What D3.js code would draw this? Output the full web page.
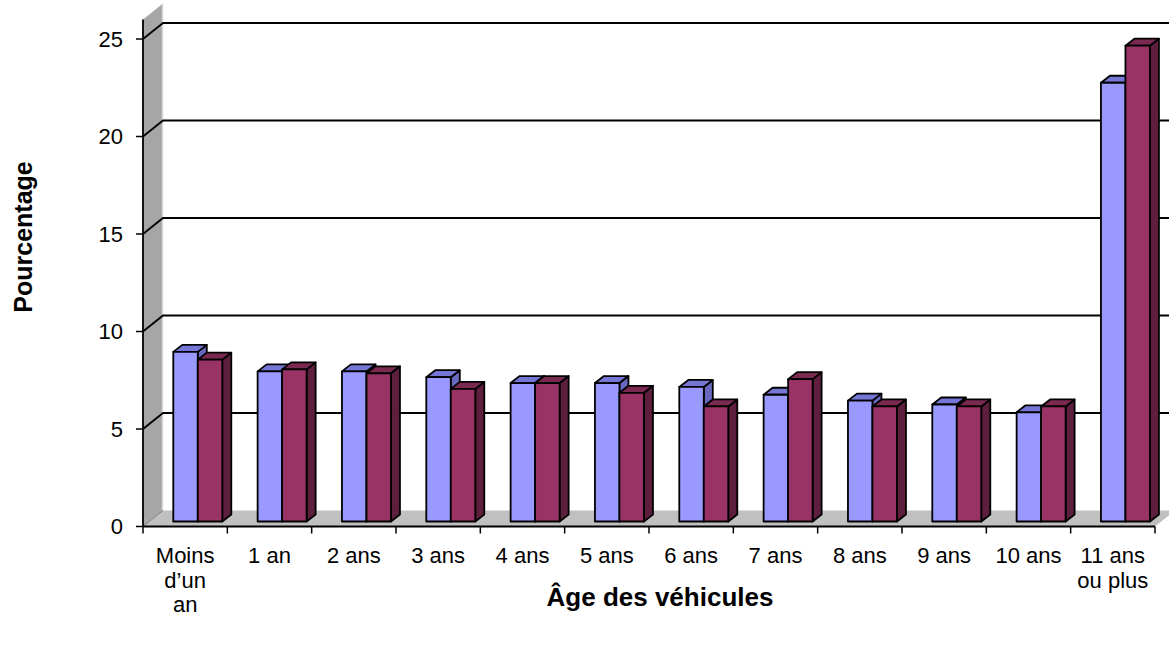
<!DOCTYPE html>
<html>
<head>
<meta charset="utf-8">
<script src="https://cdn.jsdelivr.net/npm/d3@7"></script>
<style>
  html, body { margin: 0; padding: 0; background: #fff; }
  svg { display: block; }
  text { font-family: "Liberation Sans", Arial, sans-serif; fill: #000; }
</style>
</head>
<body>
<svg id="chart" width="1169" height="645"></svg>
<script>
// ---- data ----
const categories = ["Moins d’un an", "1 an", "2 ans", "3 ans", "4 ans", "5 ans", "6 ans", "7 ans", "8 ans", "9 ans", "10 ans", "11 ans ou plus"];
const categoryLines = [["Moins", "d’un", "an"], ["1 an"], ["2 ans"], ["3 ans"], ["4 ans"], ["5 ans"], ["6 ans"], ["7 ans"], ["8 ans"], ["9 ans"], ["10 ans"], ["11 ans", "ou plus"]];
const seriesA = [8.7, 7.7, 7.7, 7.4, 7.1, 7.1, 6.9, 6.5, 6.2, 6.0, 5.6, 22.5];
const seriesB = [8.3, 7.8, 7.6, 6.8, 7.1, 6.6, 5.9, 7.3, 5.9, 5.9, 5.9, 24.4];
const yTicks = [0, 5, 10, 15, 20, 25];
const yTitle = "Pourcentage";
const xTitle = "Âge des véhicules";

(function () {
// ---- layout ----
const svg = d3.select("#chart");
const plotLeft = 143, plotRight = 1155, plotBottom = 526.5, plotTop = 19.5;
const depth = { dx: 20, dy: -16 };
const barFront = { dx: 6, dy: -5 };
const barDepth = { dx: 9, dy: -7 };

const y = d3.scaleLinear().domain([0, 26]).range([plotBottom, plotTop]);
const x = d3.scaleBand().domain(categories).range([plotLeft, plotRight]).padding(0);
const bw = x.bandwidth();
const xs = d3.scaleBand().domain(["A", "B"]).range([bw * 0.288, bw * 0.869]).padding(0);

const colors = {
  A: { front: "#9999ff", top: "#7676d6", side: "#6868c0" },
  B: { front: "#993366", top: "#7a2951", side: "#5e1f3f" }
};

const poly = pts => pts.map(p => p.join(",")).join(" ");

// left wall
const yMax = y(26);
svg.append("polygon")
  .attr("points", poly([[plotLeft, plotBottom], [plotLeft, yMax], [plotLeft + depth.dx, yMax + depth.dy], [plotLeft + depth.dx, plotBottom + depth.dy]]))
  .attr("fill", "#a6a6a6");
svg.append("line")
  .attr("x1", plotLeft + depth.dx - 0.5).attr("x2", plotLeft + depth.dx - 0.5)
  .attr("y1", yMax + depth.dy).attr("y2", plotBottom + depth.dy)
  .attr("stroke", "#d8d8d8").attr("stroke-width", 1.5);

// floor
svg.append("polygon")
  .attr("points", poly([[plotLeft, plotBottom], [plotRight, plotBottom], [plotRight + depth.dx, plotBottom + depth.dy], [plotLeft + depth.dx, plotBottom + depth.dy]]))
  .attr("fill", "#c0c0c0");

// gridlines (side wall diagonal + back wall)
const grid = svg.append("g");
yTicks.filter(t => t > 0).forEach(t => {
  grid.append("polyline")
    .attr("points", poly([[plotLeft, y(t)], [plotLeft + depth.dx, y(t) + depth.dy], [1175, y(t) + depth.dy]]))
    .attr("fill", "none").attr("stroke", "#000").attr("stroke-width", 1.8);
});
svg.append("line")
  .attr("x1", plotLeft).attr("y1", plotBottom)
  .attr("x2", plotLeft + depth.dx).attr("y2", plotBottom + depth.dy)
  .attr("stroke", "#808080").attr("stroke-width", 1);

// bars
const bars = svg.append("g");
categories.forEach((c, i) => {
  [["A", seriesA[i]], ["B", seriesB[i]]].forEach(([k, v]) => {
    const x0 = x(c) + xs(k) + barFront.dx;
    const x1 = x0 + xs.bandwidth();
    const yb = y(0) + barFront.dy;
    const yt = y(v) + barFront.dy;
    const g = bars.append("g").attr("stroke", "#000").attr("stroke-width", 1.8).attr("stroke-linejoin", "round");
    g.append("polygon")
      .attr("points", poly([[x1, yb], [x1, yt], [x1 + barDepth.dx, yt + barDepth.dy], [x1 + barDepth.dx, yb + barDepth.dy]]))
      .attr("fill", colors[k].side);
    g.append("polygon")
      .attr("points", poly([[x0, yt], [x1, yt], [x1 + barDepth.dx, yt + barDepth.dy], [x0 + barDepth.dx, yt + barDepth.dy]]))
      .attr("fill", colors[k].top);
    g.append("rect")
      .attr("x", x0).attr("y", yt).attr("width", x1 - x0).attr("height", yb - yt)
      .attr("fill", colors[k].front);
  });
});

// y axis
const yAxis = svg.append("g");
yAxis.append("line")
  .attr("x1", plotLeft).attr("x2", plotLeft).attr("y1", y(0)).attr("y2", yMax)
  .attr("stroke", "#000").attr("stroke-width", 1.8);
yTicks.forEach(t => {
  yAxis.append("line")
    .attr("x1", plotLeft - 7).attr("x2", plotLeft).attr("y1", y(t)).attr("y2", y(t))
    .attr("stroke", "#000").attr("stroke-width", 1.5);
  yAxis.append("text")
    .attr("x", plotLeft - 20).attr("y", y(t)).attr("dy", "0.36em")
    .attr("text-anchor", "end").attr("font-size", 22)
    .text(t);
});

// x axis
const xAxis = svg.append("g");
xAxis.append("line")
  .attr("x1", plotLeft).attr("x2", plotRight).attr("y1", y(0)).attr("y2", y(0))
  .attr("stroke", "#000").attr("stroke-width", 1.8);
categories.forEach((c, i) => {
  xAxis.append("line")
    .attr("x1", x(c)).attr("x2", x(c)).attr("y1", y(0)).attr("y2", y(0) + 7)
    .attr("stroke", "#000").attr("stroke-width", 1.5);
  const t = xAxis.append("text")
    .attr("x", x(c) + bw / 2).attr("y", 563)
    .attr("text-anchor", "middle").attr("font-size", 22);
  categoryLines[i].forEach((line, j) => {
    t.append("tspan").attr("x", x(c) + bw / 2).attr("y", 563 + j * 24.5).text(line);
  });
});
xAxis.append("line")
  .attr("x1", plotRight).attr("x2", plotRight).attr("y1", y(0)).attr("y2", y(0) + 7)
  .attr("stroke", "#000").attr("stroke-width", 1.5);

// titles
svg.append("text")
  .attr("transform", "translate(32,237) rotate(-90)")
  .attr("text-anchor", "middle").attr("font-size", 25).attr("font-weight", "bold")
  .text(yTitle);
svg.append("text")
  .attr("x", 660).attr("y", 606)
  .attr("text-anchor", "middle").attr("font-size", 26).attr("font-weight", "bold")
  .text(xTitle);
})();
</script>
</body>
</html>
